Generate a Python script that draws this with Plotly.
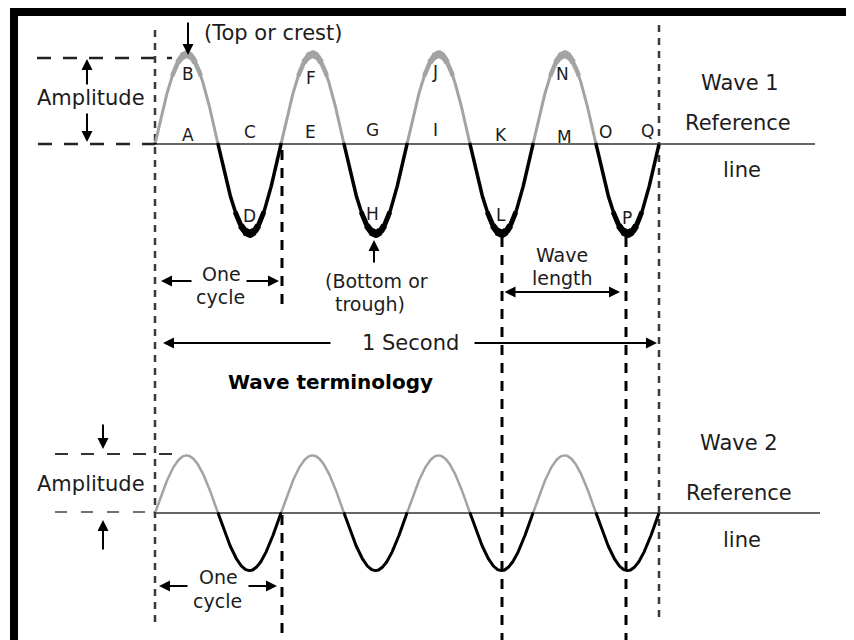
import numpy as np
import plotly.graph_objects as go

# The page body has an 8px margin, so the figure covers page pixels 8..854 x 8..640
OFF = 8
W, H = 854 - OFF, 640 - OFF

# ---------------- data ----------------
duration_s = [0.0, 1.0]          # one second shown
cycles_per_second = 4            # four full cycles in one second
wave_names = ["Wave 1", "Wave 2"]
wave_amplitudes = [1.0, 0.64]
wave_baselines = [0.0, -4.1]
point_labels = list("ABCDEFGHIJKLMNOPQ")
point_label_t = [0.0655, 0.0655, 0.1885, 0.1865, 0.3095, 0.3095, 0.4325, 0.4325,
                 0.5556, 0.5556, 0.6865, 0.6865, 0.8115, 0.8095, 0.8948, 0.9365, 0.9762]
point_label_v = [0.10, 0.78, 0.133, -0.80, 0.133, 0.733, 0.156, -0.78,
                 0.156, 0.80, 0.10, -0.79, 0.078, 0.78, 0.133, -0.82, 0.144]

# ---------------- helpers (page pixel -> data) ----------------
X0, X1 = (OFF - 155) / 504, (854 - 155) / 504
Y0, Y1 = (144 - 640) / 90, (144 - OFF) / 90


def X(px):
    return (px - 155) / 504


def Y(py):
    return (144 - py) / 90


def PX(px):
    return (px - OFF) / W


def PY(py):
    return 1 - (py - OFF) / H


FONT = "DejaVu Sans"
TXT = "#1c1c1c"
GRAY = "#a3a3a3"

fig = go.Figure()


def vline(px, py0, py1, color, width, dash):
    fig.add_trace(go.Scatter(x=[X(px), X(px)], y=[Y(py0), Y(py1)], mode="lines",
                             line=dict(color=color, width=width, dash=dash),
                             hoverinfo="skip", showlegend=False))


# dashed vertical guides (drawn under the waves)
vline(155, 30, 622, "#3a3a3a", 2.5, "7px,6px")
vline(659, 25, 622, "#3a3a3a", 2.5, "7px,6px")
vline(282, 150, 305, "#000000", 3, "10px,8px")
vline(282, 515, 640, "#000000", 3, "10px,8px")
vline(502, 237, 640, "#000000", 3, "10px,8px")
vline(626, 237, 640, "#000000", 3, "10px,8px")

t = np.linspace(duration_s[0], duration_s[1], 2001)
s = np.sin(2 * np.pi * cycles_per_second * t)


def add_wave(amp, base, levels_pos, levels_neg):
    for sign, levels, color in ((1, levels_pos, GRAY), (-1, levels_neg, "#000000")):
        for thr, wdt in levels:
            mask = (sign * s) >= thr
            y = np.where(mask, base + amp * s, np.nan)
            fig.add_trace(go.Scatter(x=t, y=y, mode="lines", connectgaps=False,
                                     line=dict(color=color, width=wdt),
                                     hoverinfo="skip", showlegend=False))


add_wave(wave_amplitudes[0], wave_baselines[0],
         [(-0.02, 3), (0.75, 4.5), (0.9, 6), (0.97, 7.5)],
         [(-0.02, 3.5), (0.75, 5), (0.9, 6.5), (0.97, 8)])
add_wave(wave_amplitudes[1], wave_baselines[1],
         [(-0.02, 2.5)],
         [(-0.02, 3)])

# ---------------- shapes ----------------
shapes = []


def hline(py, px0, px1, color, width, dash):
    shapes.append(dict(type="line", x0=X(px0), x1=X(px1), y0=Y(py), y1=Y(py),
                       line=dict(color=color, width=width, dash=dash), layer="below"))


# reference lines
shapes.append(dict(type="line", x0=X(155), x1=X(815), y0=wave_baselines[0], y1=wave_baselines[0],
                   line=dict(color="#333333", width=1.5), layer="below"))
shapes.append(dict(type="line", x0=X(155), x1=X(820), y0=wave_baselines[1], y1=wave_baselines[1],
                   line=dict(color="#333333", width=1.5), layer="below"))

hline(58, 37, 172, "#222222", 2.5, "14px,12px")
hline(144, 38, 155, "#222222", 2.5, "14px,12px")
hline(454, 55, 185, "#333333", 2, "13px,13px")
hline(512, 55, 155, "#444444", 1.5, "12px,14px")

# black frame (top and left)
shapes.append(dict(type="rect", xref="paper", yref="paper", x0=PX(10), x1=1, y0=PY(16), y1=PY(8),
                   fillcolor="#000000", line=dict(width=0)))
shapes.append(dict(type="rect", xref="paper", yref="paper", x0=PX(10), x1=PX(18), y0=0, y1=PY(8),
                   fillcolor="#000000", line=dict(width=0)))

# ---------------- annotations ----------------
ann = []


def text(px, py, s_, size=21, bold=False, color=TXT):
    ann.append(dict(x=X(px), y=Y(py), text=("<b>%s</b>" % s_) if bold else s_, showarrow=False,
                    font=dict(family=FONT, size=size, color=color), xanchor="center", yanchor="middle"))


def arrow(hx, hy, tx, ty, width=2, size=1.1, both=False):
    ann.append(dict(x=X(hx), y=Y(hy), ax=X(tx), ay=Y(ty), axref="x", ayref="y", xref="x", yref="y",
                    text="", showarrow=True, arrowhead=2, arrowsize=size, arrowwidth=width,
                    arrowcolor="#000000", arrowside="end+start" if both else "end",
                    startarrowhead=2, startarrowsize=size, standoff=0, startstandoff=0))


# point letters
for lab, tt, vv in zip(point_labels, point_label_t, point_label_v):
    ann.append(dict(x=tt, y=vv, text=lab, showarrow=False,
                    font=dict(family=FONT, size=17, color=TXT), xanchor="center", yanchor="middle"))

# wave 1 annotations
text(273, 33, "(Top or crest)")
arrow(188, 55, 188, 21)
text(91, 98, "Amplitude")
arrow(87, 59, 87, 86)
arrow(87, 142, 87, 112)
text(740, 83, wave_names[0])
text(738, 123, "Reference")
text(742, 170, "line")

text(221, 274, "One", size=19)
text(220, 297, "cycle", size=19)
arrow(161, 281, 193, 281)
arrow(279, 281, 245, 281)

arrow(374, 240, 374, 264)
text(376, 281, "(Bottom or", size=19)
text(370, 304, "trough)", size=19)

text(562, 255, "Wave", size=19)
text(562, 278, "length", size=19)
arrow(620, 292, 503, 292, both=True)

arrow(163, 343, 332, 343)
text(410, 343, "1 Second")
arrow(657, 343, 473, 343)

text(330, 382, "Wave terminology", size=20, bold=True, color="#000000")

# wave 2 annotations
arrow(103, 449, 103, 423)
arrow(103, 520, 103, 551)
text(91, 484, "Amplitude")
text(739, 443, wave_names[1])
text(739, 493, "Reference")
text(742, 540, "line")

text(218, 577, "One", size=19)
text(217, 601, "cycle", size=19)
arrow(159, 586, 189, 586)
arrow(277, 586, 247, 586)

fig.update_layout(
    width=W, height=H, margin=dict(l=0, r=0, t=0, b=0, pad=0),
    paper_bgcolor="white", plot_bgcolor="white",
    xaxis=dict(range=[X0, X1], visible=False, fixedrange=True),
    yaxis=dict(range=[Y0, Y1], visible=False, fixedrange=True),
    shapes=shapes, annotations=ann, showlegend=False,
)

fig.write_html("out.html")
